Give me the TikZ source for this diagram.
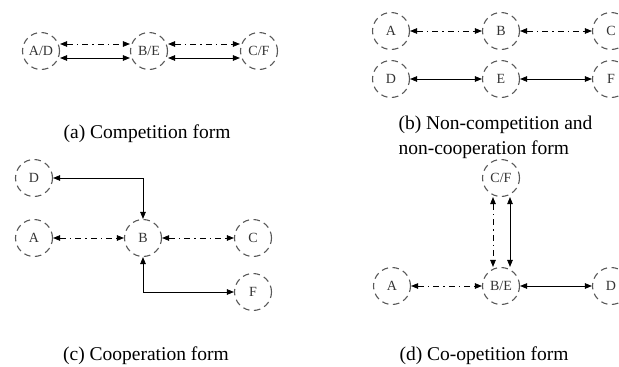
\documentclass[tikz,border=0pt]{standalone}
\usepackage{fontspec}
\setmainfont{Liberation Serif}
\usetikzlibrary{arrows.meta}

\tikzset{
  firm/.style={circle, draw=black!65, line width=1.1pt, dash pattern=on 6.5pt off 4.5pt,
    minimum size=37pt, inner sep=0pt, text=black!80, font=\fontsize{14}{14}\selectfont},
  solidlink/.style={{Triangle[length=7pt,width=5.5pt]}-{Triangle[length=7pt,width=5.5pt]}, line width=0.9pt},
  dashlink/.style={solidlink, dash pattern=on 6pt off 4pt on 1.5pt off 4pt},
  caption/.style={anchor=base, font=\fontsize{19.5}{25}\selectfont}
}

\begin{document}
\begin{tikzpicture}[x=1pt, y=-1pt]
    \useasboundingbox (0,0) rectangle (619,367);

    % (a) competition form
    \node[firm] (aAD) at (41,51) {A/D};
    \node[firm] (aBE) at (149,51) {B/E};
    \node[firm] (aCF) at (259,51) {C/F};

    \draw[dashlink] ([yshift=7pt]aAD.east) -- ([yshift=7pt]aBE.west);
    \draw[solidlink] ([yshift=-7pt]aAD.east) -- ([yshift=-7pt]aBE.west);
    \draw[dashlink] ([yshift=7pt]aBE.east) -- ([yshift=7pt]aCF.west);
    \draw[solidlink] ([yshift=-7pt]aBE.east) -- ([yshift=-7pt]aCF.west);

    \node[caption] (capA) at (147,138) {(a) Competition form};

    % (b) non-competition and non-cooperation form
    \node[firm] (bA) at (391,31) {A};
    \node[firm] (bB) at (501,31) {B};
    \node[firm] (bC) at (611,31) {C};
    \node[firm] (bD) at (391,79) {D};
    \node[firm] (bE) at (501,79) {E};
    \node[firm] (bF) at (611,79) {F};

    \draw[dashlink] (bA) -- (bB);
    \draw[dashlink] (bB) -- (bC);
    \draw[solidlink] (bD) -- (bE);
    \draw[solidlink] (bE) -- (bF);

    \node[caption, anchor=base west, align=left] (capB) at (395,154)
      {(b) Non-competition and\\non-cooperation form};

    % (c) cooperation form
    \node[firm] (cD) at (34,178) {D};
    \node[firm] (cA) at (34,238) {A};
    \node[firm] (cB) at (143,238) {B};
    \node[firm] (cC) at (253,238) {C};
    \node[firm] (cF) at (253,292) {F};

    \draw[dashlink] (cA) -- (cB);
    \draw[dashlink] (cB) -- (cC);
    \draw[solidlink] (cD) -| (cB);
    \draw[solidlink] (cB) |- (cF);

    \node[caption] (capC) at (146,360) {(c) Cooperation form};

    % (d) co-opetition form
    \node[firm] (dCF) at (501,178) {C/F};
    \node[firm] (dA) at (392,286) {A};
    \node[firm] (dBE) at (501,286) {B/E};
    \node[firm] (dD) at (611,286) {D};

    \draw[dashlink] ([xshift=-8pt]dCF.south) -- ([xshift=-8pt]dBE.north);
    \draw[solidlink] ([xshift=9pt]dCF.south) -- ([xshift=9pt]dBE.north);
    \draw[dashlink] (dA) -- (dBE);
    \draw[solidlink] (dBE) -- (dD);

    \node[caption] (capD) at (484,360) {(d) Co-opetition form};

\end{tikzpicture}
\end{document}
